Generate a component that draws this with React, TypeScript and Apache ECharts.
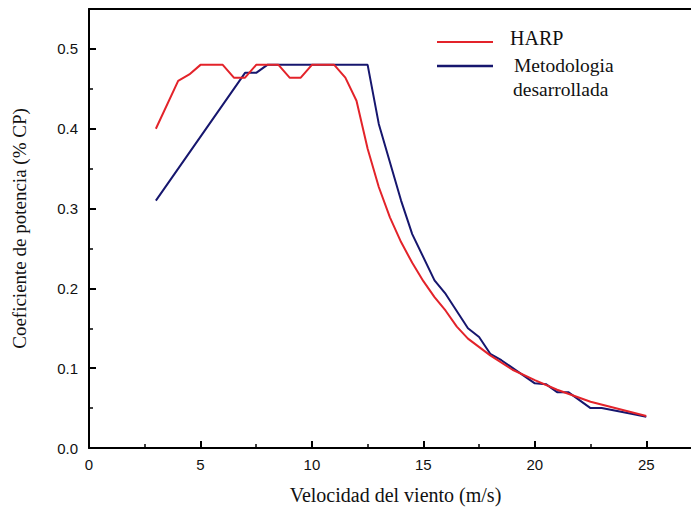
import React, { useEffect, useRef } from "react";
import * as echarts from "echarts";

const harpX = [3, 4, 4.5, 5, 6, 6.5, 7, 7.5, 8.5, 9, 9.5, 10, 11, 11.5, 12, 12.5, 13, 13.5, 14, 14.5, 15, 15.5, 16, 16.5, 17, 18, 19, 20, 21, 22.5, 25];
const harpY = [0.40, 0.46, 0.468, 0.48, 0.48, 0.464, 0.464, 0.48, 0.48, 0.464, 0.464, 0.48, 0.48, 0.464, 0.435, 0.375, 0.327, 0.289, 0.258, 0.232, 0.209, 0.189, 0.172, 0.152, 0.137, 0.116, 0.098, 0.085, 0.073, 0.058, 0.04];

const metX = [3, 7, 7.5, 8, 12.5, 13, 14, 14.5, 15.5, 16, 17, 17.5, 18, 18.5, 20, 20.5, 21, 21.5, 22.5, 23, 24.5, 25];
const metY = [0.31, 0.47, 0.47, 0.48, 0.48, 0.406, 0.31, 0.268, 0.21, 0.193, 0.15, 0.139, 0.118, 0.11, 0.081, 0.08, 0.07, 0.07, 0.05, 0.05, 0.042, 0.039];

const xTitle = "Velocidad del viento (m/s)";
const yTitle = "Coeficiente de potencia (% CP)";
const harpName = "HARP";
const metName = "Metodologia desarrollada";

const RED = "#e3232a";
const BLUE = "#16166e";
const SERIF = "Liberation Serif, Times New Roman, serif";

export default function App() {
  const ref = useRef<HTMLDivElement>(null);
  useEffect(() => {
    if (!ref.current) return;
    const chart = echarts.init(ref.current, null, { renderer: "svg" });
    const axisLabelStyle = { fontFamily: "Liberation Sans, Arial, sans-serif", fontSize: 15, color: "#111" };
    chart.setOption({
      animation: false,
      backgroundColor: "#fff",
      grid: { left: 89, top: 9, right: -11, bottom: 62, outerBoundsMode: "none", containLabel: false },
      xAxis: [
        {
          type: "value",
          min: 0,
          max: 27.5,
          interval: 5,
          axisLine: { show: true, lineStyle: { color: "#000", width: 2 } },
          axisTick: { show: true, inside: true, length: 7, lineStyle: { color: "#000", width: 2 } },
          minorTick: { show: true, splitNumber: 2, length: 4, lineStyle: { color: "#000", width: 1.5 } },
          splitLine: { show: false },
          axisLabel: { ...axisLabelStyle, margin: 9, showMaxLabel: false },
          name: xTitle,
          nameLocation: "middle",
          nameGap: 37,
          nameTextStyle: { fontFamily: SERIF, fontSize: 20, color: "#111", padding: [0, 0, 0, 0] },
        },
        {
          type: "value",
          position: "top",
          min: 0,
          max: 27.5,
          axisLine: { show: true, lineStyle: { color: "#000", width: 2 } },
          axisTick: { show: false },
          axisLabel: { show: false },
          splitLine: { show: false },
        },
      ],
      yAxis: {
        type: "value",
        min: 0,
        max: 0.55,
        interval: 0.1,
        axisLine: { show: true, lineStyle: { color: "#000", width: 2 } },
        axisTick: { show: true, inside: true, length: 7, lineStyle: { color: "#000", width: 2 } },
        minorTick: { show: true, splitNumber: 2, length: 4, lineStyle: { color: "#000", width: 1.5 } },
        splitLine: { show: false },
        axisLabel: { ...axisLabelStyle, margin: 11, formatter: (v: number) => v.toFixed(1), showMaxLabel: false },
        name: yTitle,
        nameLocation: "middle",
        nameGap: 60,
        nameRotate: 90,
        nameTextStyle: { fontFamily: SERIF, fontSize: 19, color: "#111" },
      },
      series: [
        {
          name: harpName,
          type: "line",
          data: harpX.map((x, i) => [x, harpY[i]]),
          showSymbol: false,
          lineStyle: { color: RED, width: 2 },
          itemStyle: { color: RED },
          z: 3,
        },
        {
          name: metName,
          type: "line",
          data: metX.map((x, i) => [x, metY[i]]),
          showSymbol: false,
          lineStyle: { color: BLUE, width: 2 },
          itemStyle: { color: BLUE },
          z: 2,
        },
      ],
      graphic: [
        { type: "line", shape: { x1: 437, y1: 42, x2: 493, y2: 42 }, style: { stroke: RED, lineWidth: 2 } },
        { type: "text", x: 510, y: 38, style: { text: "HARP", fontFamily: SERIF, fontSize: 20, fill: "#111", verticalAlign: "middle" } },
        { type: "line", shape: { x1: 437, y1: 66, x2: 493, y2: 66 }, style: { stroke: BLUE, lineWidth: 2.5 } },
        { type: "text", x: 514, y: 65, style: { text: "Metodologia", fontFamily: SERIF, fontSize: 19.5, fill: "#111", verticalAlign: "middle" } },
        { type: "text", x: 513, y: 89, style: { text: "desarrollada", fontFamily: SERIF, fontSize: 19.5, fill: "#111", verticalAlign: "middle" } },
      ],
    });
    return () => chart.dispose();
  }, []);
  return <div ref={ref} style={{ width: 691, height: 510, position: "absolute", left: 0, top: 0 }} />;
}
